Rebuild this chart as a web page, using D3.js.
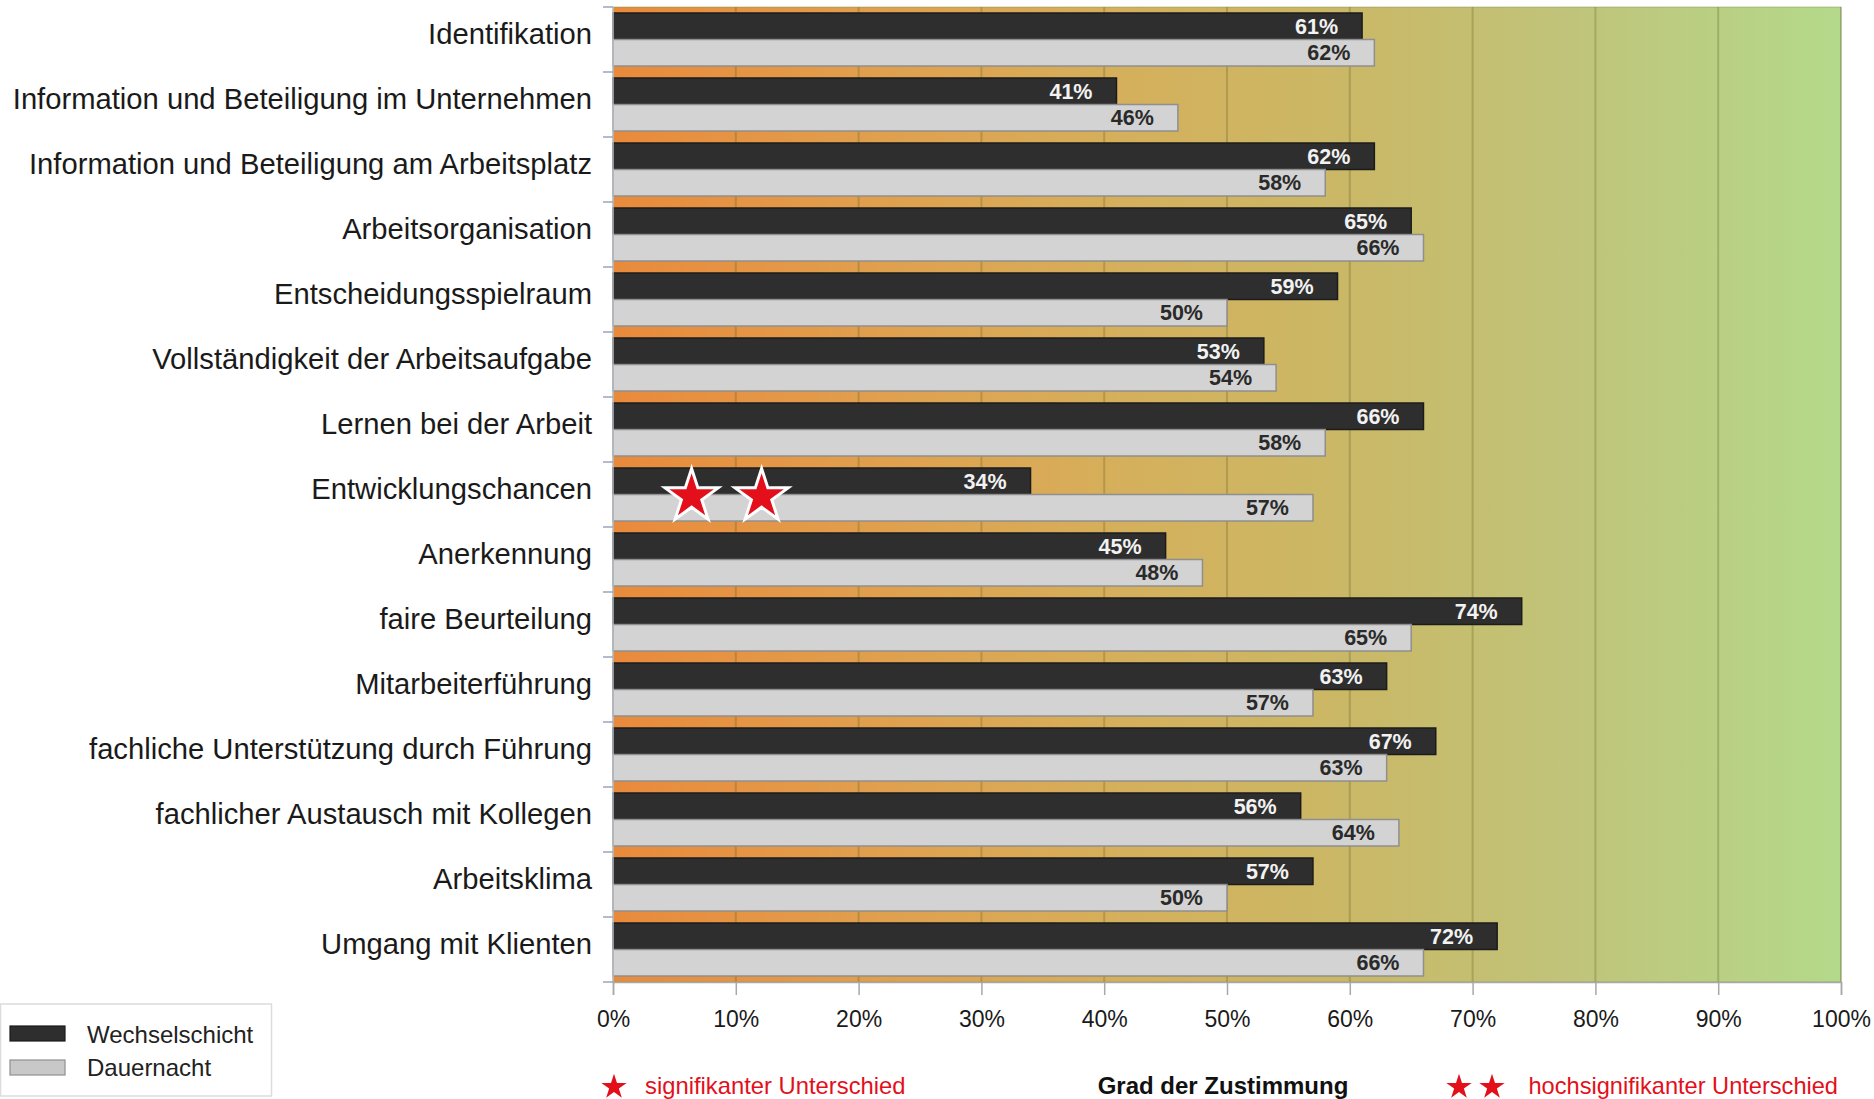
<!DOCTYPE html>
<html>
<head>
    <meta charset="utf-8">
    <title>Grad der Zustimmung</title>
    <script src="https://d3js.org/d3.v7.min.js"></script>
    <style>
        body { margin: 0; background: #fff; }
        text { font-family: "Liberation Sans", Arial, sans-serif; }
    </style>
</head>
<body>
    <div id="chart"></div>

    <script>
        // Data
        var categories = [
            "Identifikation",
            "Information und Beteiligung im Unternehmen",
            "Information und Beteiligung am Arbeitsplatz",
            "Arbeitsorganisation",
            "Entscheidungsspielraum",
            "Vollständigkeit der Arbeitsaufgabe",
            "Lernen bei der Arbeit",
            "Entwicklungschancen",
            "Anerkennung",
            "faire Beurteilung",
            "Mitarbeiterführung",
            "fachliche Unterstützung durch Führung",
            "fachlicher Austausch mit Kollegen",
            "Arbeitsklima",
            "Umgang mit Klienten"
        ];
        var seriesNames = ["Wechselschicht", "Dauernacht"];
        var wechselschicht = [61, 41, 62, 65, 59, 53, 66, 34, 45, 74, 63, 67, 56, 57, 72];
        var dauernacht = [62, 46, 58, 66, 50, 54, 58, 57, 48, 65, 57, 63, 64, 50, 66];
        var xTicks = [0, 10, 20, 30, 40, 50, 60, 70, 80, 90, 100];
        // significance marks: category and star positions (in % of the axis)
        var starCategory = "Entwicklungschancen";
        var starPositions = [6.4, 12.1];

        var width = 1874, height = 1099;
        var plotLeft = 613, plotRight = 1841, plotTop = 7, plotBottom = 982;

        var svg = d3.select("#chart")
            .append("svg")
            .attr("width", width)
            .attr("height", height);

        var x = d3.scaleLinear().domain([0, 100]).range([plotLeft, plotRight]);
        var y = d3.scaleBand().domain(categories).range([plotTop, plotBottom]);
        var y1 = d3.scaleBand().domain(seriesNames).range([6, 59]);

        // Background gradient orange -> green
        var defs = svg.append("defs");
        var grad = defs.append("linearGradient")
            .attr("id", "bg")
            .attr("x1", "0%").attr("x2", "100%").attr("y1", "0%").attr("y2", "0%");
        [["0%", "#e98a3b"], ["22%", "#e0a04e"], ["42%", "#d5b05c"], ["60%", "#cab866"],
         ["78%", "#c0c47a"], ["100%", "#b4d98a"]].forEach(function (s) {
            grad.append("stop").attr("offset", s[0]).attr("stop-color", s[1]);
        });

        svg.append("rect")
            .attr("x", plotLeft).attr("y", plotTop)
            .attr("width", plotRight - plotLeft).attr("height", plotBottom - plotTop)
            .attr("fill", "url(#bg)");

        // Vertical grid lines
        svg.append("g")
            .selectAll("line")
            .data(xTicks.slice(1))
            .enter().append("line")
            .attr("x1", function (d) { return x(d); })
            .attr("x2", function (d) { return x(d); })
            .attr("y1", plotTop).attr("y2", plotBottom)
            .attr("stroke", "rgba(90,90,40,0.28)")
            .attr("stroke-width", 2);

        // plot frame
        svg.append("rect")
            .attr("x", plotLeft).attr("y", plotTop)
            .attr("width", plotRight - plotLeft).attr("height", plotBottom - plotTop)
            .attr("fill", "none")
            .attr("stroke", "rgba(120,140,80,0.45)")
            .attr("stroke-width", 1);

        var rows = categories.map(function (c, i) {
            return { category: c, values: [wechselschicht[i], dauernacht[i]] };
        });

        var group = svg.append("g")
            .selectAll("g")
            .data(rows)
            .enter().append("g")
            .attr("transform", function (d) { return "translate(0," + y(d.category) + ")"; });

        var cells = group.selectAll("g")
            .data(function (d) {
                return seriesNames.map(function (s, j) { return { series: s, value: d.values[j] }; });
            })
            .enter().append("g");

        cells.append("rect")
            .attr("x", x(0))
            .attr("y", function (d) { return y1(d.series); })
            .attr("width", function (d) { return x(d.value) - x(0); })
            .attr("height", y1.bandwidth())
            .attr("fill", function (d) { return d.series === "Wechselschicht" ? "#2e2e2e" : "#d3d3d3"; })
            .attr("stroke", function (d) { return d.series === "Wechselschicht" ? "#1c1c1c" : "#8f8f8f"; })
            .attr("stroke-width", 1.5);

        cells.append("text")
            .attr("x", function (d) { return x(d.value) - 24; })
            .attr("y", function (d) { return y1(d.series) + y1.bandwidth() / 2; })
            .attr("dy", "0.36em")
            .attr("text-anchor", "end")
            .attr("font-size", "21.5px")
            .attr("font-weight", "bold")
            .attr("fill", function (d) { return d.series === "Wechselschicht" ? "#f2f2f2" : "#2a2a2a"; })
            .text(function (d) { return d.value + "%"; });

        // Category labels
        svg.append("g")
            .selectAll("text")
            .data(categories)
            .enter().append("text")
            .attr("x", 592)
            .attr("y", function (d) { return y(d) + y.bandwidth() / 2 + 4.5; })
            .attr("text-anchor", "end")
            .attr("font-size", "29.2px")
            .attr("fill", "#1a1a1a")
            .text(function (d) { return d; });

        // Y axis line + ticks at band boundaries
        var yAxis = svg.append("g");
        yAxis.append("line")
            .attr("x1", plotLeft).attr("x2", plotLeft)
            .attr("y1", plotTop).attr("y2", plotBottom)
            .attr("stroke", "#b8bcc4").attr("stroke-width", 1.5);
        yAxis.selectAll("line.tick")
            .data(categories.concat(["end"]))
            .enter().append("line")
            .attr("class", "tick")
            .attr("x1", plotLeft - 10).attr("x2", plotLeft)
            .attr("y1", function (d, i) { return i < categories.length ? y(d) : plotBottom; })
            .attr("y2", function (d, i) { return i < categories.length ? y(d) : plotBottom; })
            .attr("stroke", "#9aa6b8").attr("stroke-width", 1.5);

        // X axis
        var xAxis = svg.append("g")
            .attr("transform", "translate(0," + plotBottom + ")")
            .call(d3.axisBottom(x)
                .tickValues(xTicks)
                .tickSize(13)
                .tickPadding(16)
                .tickFormat(function (d) { return d + "%"; }));
        xAxis.select(".domain").attr("stroke", "#a8a8a8").attr("stroke-width", 1.5);
        xAxis.selectAll(".tick line").attr("stroke", "#a8a8a8").attr("stroke-width", 1.5);
        xAxis.selectAll(".tick text")
            .attr("font-family", "\"Liberation Sans\", Arial, sans-serif")
            .attr("font-size", "23px")
            .attr("fill", "#1a1a1a");

        // Stars
        var starPath = d3.symbol().type(d3.symbolStar);
        svg.append("g")
            .selectAll("path")
            .data(starPositions)
            .enter().append("path")
            .attr("d", starPath.size(880)())
            .attr("transform", function (d) {
                return "translate(" + x(d) + "," + (y(starCategory) + y1("Dauernacht") + 2) + ")";
            })
            .attr("fill", "#e3101b")
            .attr("stroke", "#ffffff")
            .attr("stroke-width", 3)
            .attr("stroke-linejoin", "miter");

        // Legend box
        var legend = svg.append("g");
        legend.append("rect")
            .attr("x", 0.5).attr("y", 1004)
            .attr("width", 271).attr("height", 92)
            .attr("fill", "#fff")
            .attr("stroke", "#dcdcdc").attr("stroke-width", 1.5);
        seriesNames.forEach(function (s, i) {
            legend.append("rect")
                .attr("x", 10).attr("y", 1026 + i * 34)
                .attr("width", 55).attr("height", 15)
                .attr("fill", i === 0 ? "#2e2e2e" : "#c8c8c8")
                .attr("stroke", i === 0 ? "#1c1c1c" : "#8f8f8f")
                .attr("stroke-width", 1.2);
            legend.append("text")
                .attr("x", 87).attr("y", 1043 + i * 33)
                .attr("font-size", "24px")
                .attr("fill", "#222")
                .text(s);
        });

        // Bottom notes
        var notes = svg.append("g");
        var smallStar = d3.symbol().type(d3.symbolStar).size(200)();
        [614, 1459, 1492].forEach(function (sx) {
            notes.append("path")
                .attr("d", smallStar)
                .attr("transform", "translate(" + sx + ",1087)")
                .attr("fill", "#e3101b");
        });
        notes.append("text")
            .attr("x", 645).attr("y", 1094)
            .attr("font-size", "23.8px")
            .attr("fill", "#e3101b")
            .text("signifikanter Unterschied");
        notes.append("text")
            .attr("x", 1223).attr("y", 1094)
            .attr("text-anchor", "middle")
            .attr("font-size", "24px")
            .attr("font-weight", "bold")
            .attr("fill", "#111")
            .text("Grad der Zustimmung");
        notes.append("text")
            .attr("x", 1838).attr("y", 1094)
            .attr("text-anchor", "end")
            .attr("font-size", "23.6px")
            .attr("fill", "#e3101b")
            .text("hochsignifikanter Unterschied");
    </script>
</body>
</html>
